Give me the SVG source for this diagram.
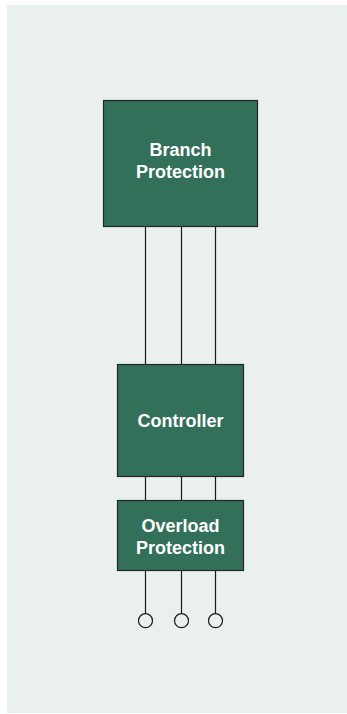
<svg xmlns="http://www.w3.org/2000/svg" width="347" height="714" viewBox="0 0 347 714">
<style>
.box{fill:#33705a;stroke:#262626;stroke-width:1.2}
.lbl{fill:#ffffff;font-family:"Liberation Sans",Arial,sans-serif;font-weight:bold;font-size:18px;text-anchor:middle}
.wire{stroke:#1a1a1a;stroke-width:1.2;fill:none}
.term{fill:none;stroke:#1a1a1a;stroke-width:1.2}
</style>
<rect x="7" y="5" width="340" height="708" fill="#e9f0ee"/>
<g id="connectors">
<line class="wire" x1="145.5" y1="226" x2="145.5" y2="364"/>
<line class="wire" x1="181.5" y1="226" x2="181.5" y2="364"/>
<line class="wire" x1="215.5" y1="226" x2="215.5" y2="364"/>
<line class="wire" x1="145.5" y1="476" x2="145.5" y2="501"/>
<line class="wire" x1="181.5" y1="476" x2="181.5" y2="501"/>
<line class="wire" x1="215.5" y1="476" x2="215.5" y2="501"/>
<line class="wire" x1="145.5" y1="570" x2="145.5" y2="613.5"/>
<line class="wire" x1="181.5" y1="570" x2="181.5" y2="613.5"/>
<line class="wire" x1="215.5" y1="570" x2="215.5" y2="613.5"/>
</g>
<g id="branch-protection">
<rect class="box" x="103.5" y="100.5" width="154" height="126"/>
<text class="lbl" x="180.5" y="156">Branch</text>
<text class="lbl" x="180.5" y="178">Protection</text>
</g>
<g id="controller">
<rect class="box" x="117.5" y="364.5" width="126" height="112"/>
<text class="lbl" x="180.5" y="426.5">Controller</text>
</g>
<g id="overload-protection">
<rect class="box" x="117.5" y="500.5" width="126" height="70"/>
<text class="lbl" x="180.5" y="532">Overload</text>
<text class="lbl" x="180.5" y="554">Protection</text>
</g>
<g id="terminals">
<circle class="term" cx="145.5" cy="620.7" r="7"/>
<circle class="term" cx="181.5" cy="620.7" r="7"/>
<circle class="term" cx="215.5" cy="620.7" r="7"/>
</g>
</svg>
